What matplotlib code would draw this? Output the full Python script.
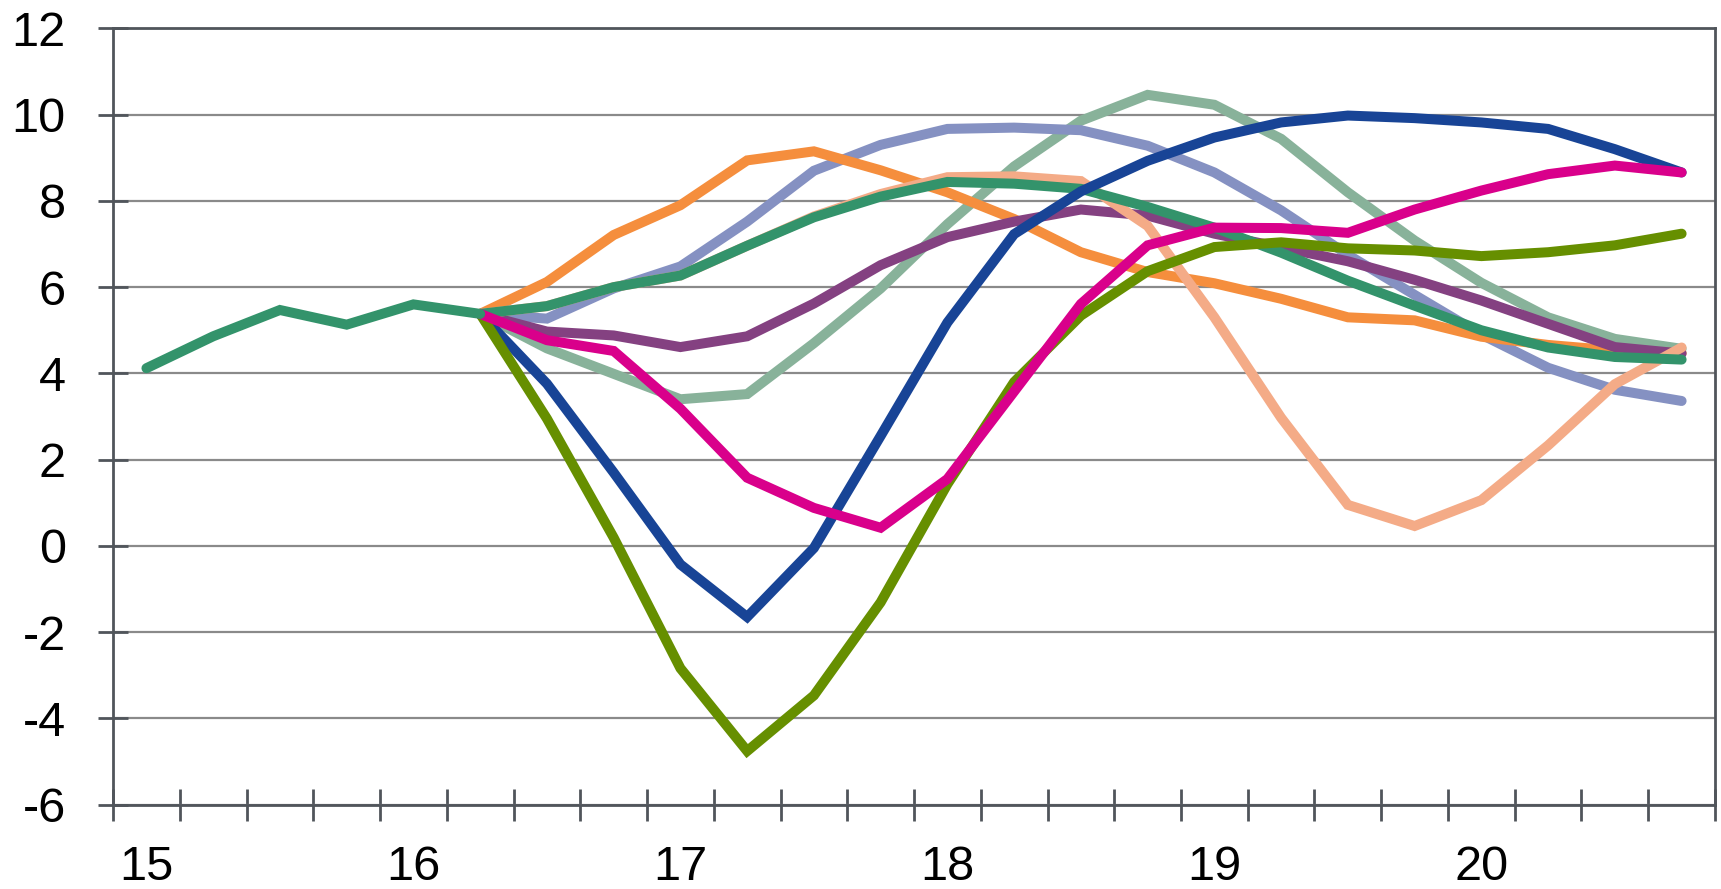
import numpy as np
import matplotlib
matplotlib.use("Agg")
import matplotlib.pyplot as plt

plt.rcParams['font.family'] = ['Liberation Sans', 'DejaVu Sans']

# quarters 15Q1 .. 20Q4
year_labels = ["15", "16", "17", "18", "19", "20"]
n_quarters = 24

# common history 15Q1 .. 16Q2
history = [4.12, 4.86, 5.47, 5.13, 5.6, 5.38]

# scenarios from 16Q2 .. 20Q4
grey_green = [5.38, 4.58, 3.99, 3.4, 3.52, 4.7, 5.97, 7.46, 8.8, 9.86, 10.46, 10.23, 9.44, 8.2, 7.08, 6.1, 5.3, 4.8, 4.57]
lavender = [5.38, 5.27, 5.97, 6.48, 7.52, 8.7, 9.3, 9.67, 9.7, 9.64, 9.28, 8.66, 7.78, 6.75, 5.82, 4.9, 4.13, 3.62, 3.36]
orange = [5.38, 6.12, 7.21, 7.9, 8.94, 9.15, 8.71, 8.2, 7.58, 6.81, 6.35, 6.09, 5.73, 5.3, 5.23, 4.85, 4.66, 4.53, 4.47]
purple = [5.38, 4.97, 4.88, 4.61, 4.86, 5.62, 6.51, 7.16, 7.52, 7.8, 7.66, 7.24, 6.92, 6.6, 6.17, 5.69, 5.15, 4.61, 4.46]
salmon = [5.38, 5.56, 6.0, 6.27, 6.96, 7.64, 8.16, 8.55, 8.57, 8.46, 7.42, 5.3, 2.97, 0.95, 0.46, 1.06, 2.33, 3.75, 4.6]
dark_green = [5.38, 5.56, 6.0, 6.27, 6.96, 7.62, 8.1, 8.44, 8.4, 8.28, 7.86, 7.38, 6.8, 6.15, 5.57, 5.0, 4.6, 4.38, 4.32]
blue = [5.38, 3.76, 1.7, -0.43, -1.65, -0.05, 2.55, 5.18, 7.23, 8.22, 8.93, 9.47, 9.82, 9.98, 9.92, 9.82, 9.67, 9.2, 8.66]
olive = [5.38, 2.95, 0.19, -2.84, -4.76, -3.47, -1.31, 1.43, 3.8, 5.34, 6.37, 6.93, 7.04, 6.9, 6.85, 6.72, 6.81, 6.97, 7.24]
magenta = [5.38, 4.77, 4.52, 3.18, 1.58, 0.88, 0.42, 1.55, 3.58, 5.61, 6.97, 7.38, 7.37, 7.26, 7.8, 8.24, 8.62, 8.82, 8.66]

series = [
    (grey_green, "#88b29a"),
    (lavender, "#8591c2"),
    (orange, "#f58e3d"),
    (purple, "#844181"),
    (salmon, "#f4ab87"),
    (dark_green, "#33936b"),
    (blue, "#184496"),
    (olive, "#668f00"),
    (magenta, "#d9008b"),
]

x_hist = np.arange(len(history)) + 0.5
x_scen = np.arange(len(history) - 1, n_quarters) + 0.5

fig = plt.figure(figsize=(17.21, 8.89), dpi=100)
ax = fig.add_axes([0.0657, 0.095, 0.9308, 0.873])

lw = 7.2
for vals, col in series:
    ax.plot(x_scen, vals, color=col, lw=lw, solid_capstyle='round', solid_joinstyle='miter')
ax.plot(x_hist, history, color="#33936b", lw=lw, solid_capstyle='round', solid_joinstyle='miter')

ax.set_xlim(0, n_quarters)
ax.set_ylim(-6, 12)
ax.set_yticks(np.arange(-6, 13, 2))
ax.set_yticklabels([str(v) for v in range(-6, 13, 2)])
ax.set_xticks(np.arange(0, n_quarters + 1))
ax.set_xticklabels([])
ax.set_xticks(np.arange(0, n_quarters, 4) + 0.5, minor=True)
ax.set_xticklabels(year_labels, minor=True)

spine_col = "#50555b"
ax.yaxis.grid(True, color="#8a8a8a", lw=1.6)
ax.set_axisbelow(True)
for s in ax.spines.values():
    s.set_color(spine_col)
    s.set_linewidth(2.0)

ax.tick_params(axis='y', direction='inout', length=22, width=2, color=spine_col,
               labelsize=35, pad=23, right=False)
ax.tick_params(axis='x', which='major', direction='inout', length=23, width=2,
               color=spine_col, top=False)
ax.tick_params(axis='x', which='minor', length=0, labelsize=35, pad=29)

fig.savefig("out.png", dpi=100)
